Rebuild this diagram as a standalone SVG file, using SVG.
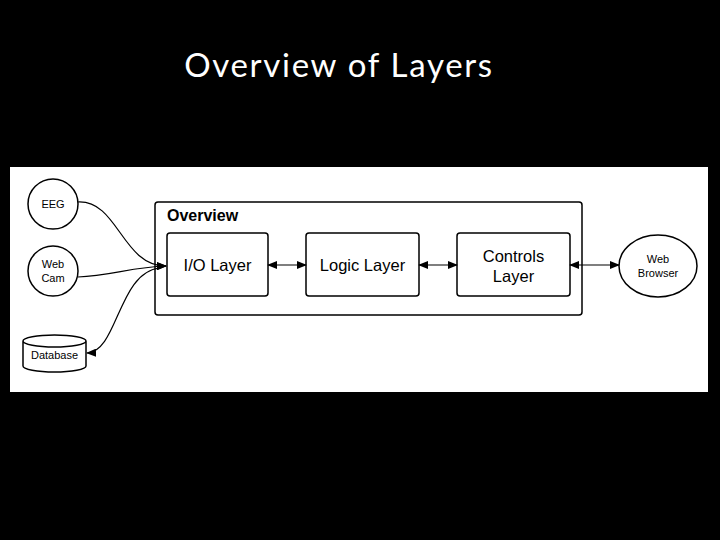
<svg xmlns="http://www.w3.org/2000/svg" width="720" height="540" viewBox="0 0 720 540">
<defs>
<style>
.lbl{font-family:"Liberation Sans",Arial,sans-serif;fill:#000;text-anchor:middle}
.box{fill:#fff;stroke:#000;stroke-width:1.5}
.conn{fill:none;stroke:#000;stroke-width:1.2}
</style>
<marker id="ah" viewBox="0 0 10 10" refX="9" refY="5" markerWidth="10" markerHeight="8" markerUnits="userSpaceOnUse" orient="auto-start-reverse" preserveAspectRatio="none">
<path d="M0,0 L10,5 L0,10 z" fill="#000"/>
</marker>
</defs>
<rect width="720" height="540" fill="#000"/>
<text x="339" y="77" font-family="Lato,'Open Sans',sans-serif" font-size="33" letter-spacing="1.7" fill="#fff" text-anchor="middle">Overview of Layers</text>
<rect x="10" y="167" width="698" height="225" fill="#fff"/>
<g id="overview">
<rect x="155" y="202" width="427" height="113" rx="3" class="box"/>
<text x="167" y="221" class="lbl" font-size="16" font-weight="bold" style="text-anchor:start">Overview</text>
</g>
<g id="eeg">
<circle cx="53" cy="204" r="25" class="box"/>
<text x="53" y="208" class="lbl" font-size="11">EEG</text>
</g>
<g id="webcam">
<circle cx="53" cy="271" r="25" class="box"/>
<text x="53" y="268" class="lbl" font-size="11">Web</text>
<text x="53" y="282" class="lbl" font-size="11">Cam</text>
</g>
<g id="database">
<path d="M23,341 L23,366 A31.5,6 0 0 0 86,366 L86,341 A31.5,6 0 0 0 23,341 A31.5,6 0 0 0 86,341" class="box"/>
<text x="54.5" y="359" class="lbl" font-size="11">Database</text>
</g>
<g id="io">
<rect x="167" y="233" width="101" height="63" rx="3" class="box"/>
<text x="217.5" y="271" class="lbl" font-size="16.5">I/O Layer</text>
</g>
<g id="logic">
<rect x="306" y="233" width="113" height="63" rx="3" class="box"/>
<text x="362.5" y="271" class="lbl" font-size="16.5">Logic Layer</text>
</g>
<g id="controls">
<rect x="457" y="233" width="113" height="63" rx="3" class="box"/>
<text x="513.5" y="262" class="lbl" font-size="16.5">Controls</text>
<text x="513.5" y="282" class="lbl" font-size="16.5">Layer</text>
</g>
<g id="browser">
<ellipse cx="658" cy="266" rx="39" ry="31" class="box"/>
<text x="658" y="263" class="lbl" font-size="11">Web</text>
<text x="658" y="277" class="lbl" font-size="11">Browser</text>
</g>
<g id="connectors">
<path d="M78,202 C118,200 122,266 166,266" class="conn" marker-end="url(#ah)"/>
<path d="M78,277 C110,276 132,267 166,266" class="conn" marker-end="url(#ah)"/>
<path d="M160,268 C118,272 118,352 87,353" class="conn" marker-end="url(#ah)"/>
<path d="M268,265 L306,265" class="conn" stroke-width="1.8" marker-start="url(#ah)" marker-end="url(#ah)"/>
<path d="M419,265 L457,265" class="conn" stroke-width="1.8" marker-start="url(#ah)" marker-end="url(#ah)"/>
<path d="M570,265 L619,265" class="conn" stroke-width="1.8" marker-start="url(#ah)" marker-end="url(#ah)"/>
</g>
</svg>
